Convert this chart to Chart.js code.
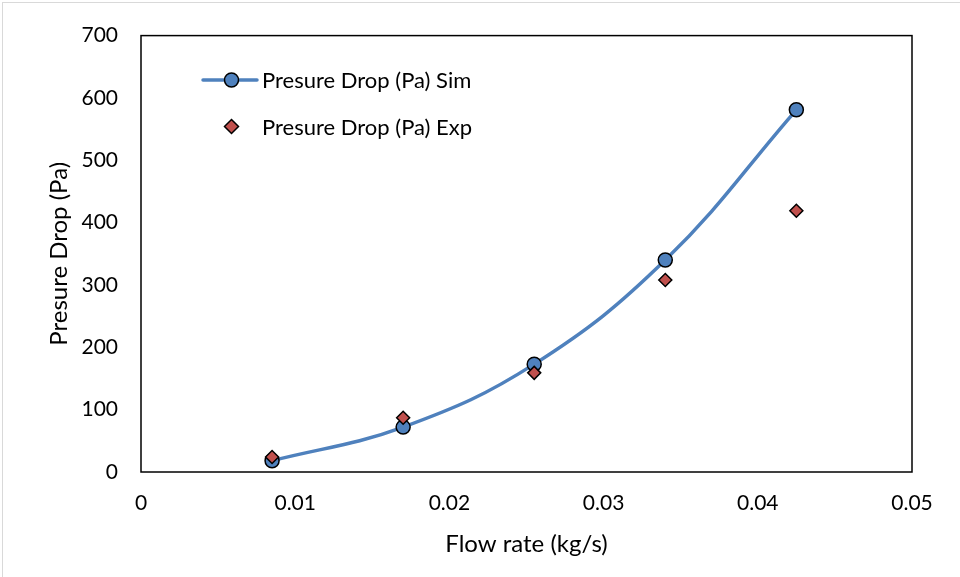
<!DOCTYPE html>
<html>
<head>
<meta charset="utf-8">
<script src="https://cdn.jsdelivr.net/npm/chart.js@4"></script>
<style>
  html, body { margin: 0; padding: 0; background: #fff; }
  #wrap { position: relative; width: 960px; height: 577px; }
  #edge { position: absolute; left: 2px; top: 2px; right: 0; bottom: 0; border-top: 1px solid #d9d9d9; border-left: 1px solid #d9d9d9; pointer-events: none; }
  canvas { display: block; }
</style>
</head>
<body>
<div id="wrap"><canvas id="c" width="960" height="577"></canvas><div id="edge"></div></div>
<script>
// Flow rate (kg/s) and measured/simulated pressure drop (Pa)
const flowRate = [0.0085, 0.017, 0.0255, 0.034, 0.0425];
const simDrop = [18, 72, 173, 340, 581];
const expDrop = [24, 87, 159, 308, 419];
const seriesNames = ['Presure Drop (Pa) Sim', 'Presure Drop (Pa) Exp'];
const xTicks = [0, 0.01, 0.02, 0.03, 0.04, 0.05];
const yTicks = [0, 100, 200, 300, 400, 500, 600, 700];

const FONT = 'Lato, "Open Sans", sans-serif';
const BLUE = '#4f81bd';
const RED = '#c0504d';

// Legend drawn inside the plot area, upper left
const insideLegend = {
  id: 'insideLegend',
  afterDraw(chart) {
    const ctx = chart.ctx;
    const x0 = 203, rows = [80, 126.5];
    const cx = 231.5;
    ctx.save();
    ctx.font = '22px ' + FONT;
    ctx.textBaseline = 'middle';
    // simulated: line + circle
    ctx.strokeStyle = BLUE; ctx.lineWidth = 3.5; ctx.lineCap = 'round';
    ctx.beginPath(); ctx.moveTo(x0, rows[0]); ctx.lineTo(257, rows[0]); ctx.stroke();
    ctx.beginPath(); ctx.arc(cx, rows[0], 7, 0, Math.PI * 2);
    ctx.fillStyle = BLUE; ctx.fill(); ctx.lineWidth = 1.5; ctx.strokeStyle = '#000'; ctx.stroke();
    // experiment: diamond
    const d = 7, cy = rows[1];
    ctx.beginPath(); ctx.moveTo(cx, cy - d); ctx.lineTo(cx + d, cy); ctx.lineTo(cx, cy + d); ctx.lineTo(cx - d, cy); ctx.closePath();
    ctx.fillStyle = RED; ctx.fill(); ctx.stroke();
    ctx.fillStyle = '#000';
    ctx.fillText(seriesNames[0], 262, rows[0] + 1);
    ctx.fillText(seriesNames[1], 262, rows[1] + 1);
    ctx.restore();
  }
};

// Black frame around the plot area
const plotFrame = {
  id: 'plotFrame',
  afterDatasetsDraw(chart) {
    const a = chart.chartArea, ctx = chart.ctx;
    ctx.save();
    ctx.strokeStyle = '#000'; ctx.lineWidth = 1.5;
    ctx.strokeRect(a.left, a.top, a.right - a.left, a.bottom - a.top);
    ctx.restore();
  }
};

new Chart(document.getElementById('c'), {
  type: 'scatter',
  data: {
    datasets: [
      {
        label: seriesNames[1],
        data: flowRate.map((x, i) => ({ x, y: expDrop[i] })),
        showLine: false,
        pointStyle: 'rectRot',
        pointRadius: 6.5,
        pointBackgroundColor: RED,
        pointBorderColor: '#000',
        pointBorderWidth: 1.5,
        order: 1
      },
      {
        label: seriesNames[0],
        data: flowRate.map((x, i) => ({ x, y: simDrop[i] })),
        showLine: true,
        tension: 0.4,
        borderColor: BLUE,
        borderWidth: 3.5,
        pointStyle: 'circle',
        pointRadius: 7,
        pointBackgroundColor: BLUE,
        pointBorderColor: '#000',
        pointBorderWidth: 1.5,
        order: 2
      }
    ]
  },
  options: {
    responsive: false,
    animation: false,
    layout: { padding: { top: 20, right: 48, left: 0, bottom: 0 } },
    plugins: { legend: { display: false }, tooltip: { enabled: false } },
    scales: {
      x: {
        type: 'linear', min: 0, max: 0.05,
        afterBuildTicks(s) { s.ticks = xTicks.map(v => ({ value: v })); },
        afterFit(s) { s.height = 105; },
        grid: { display: false, drawTicks: false },
        border: { display: false },
        ticks: { padding: 19, color: '#000', font: { family: FONT, size: 21 },
                 callback: v => String(v) },
        title: { display: true, text: 'Flow rate (kg/s)', color: '#000',
                 font: { family: FONT, size: 24 }, padding: 18 }
      },
      y: {
        min: 0, max: 700,
        afterBuildTicks(s) { s.ticks = yTicks.map(v => ({ value: v })); },
        afterFit(s) { s.width = 141; },
        grid: { display: false, drawTicks: false },
        border: { display: false },
        ticks: { padding: 23, color: '#000', font: { family: FONT, size: 21 } },
        title: { display: true, text: 'Presure Drop (Pa)', color: '#000',
                 font: { family: FONT, size: 24 }, padding: 45 }
      }
    }
  },
  plugins: [plotFrame, insideLegend]
});
</script>
</body>
</html>
